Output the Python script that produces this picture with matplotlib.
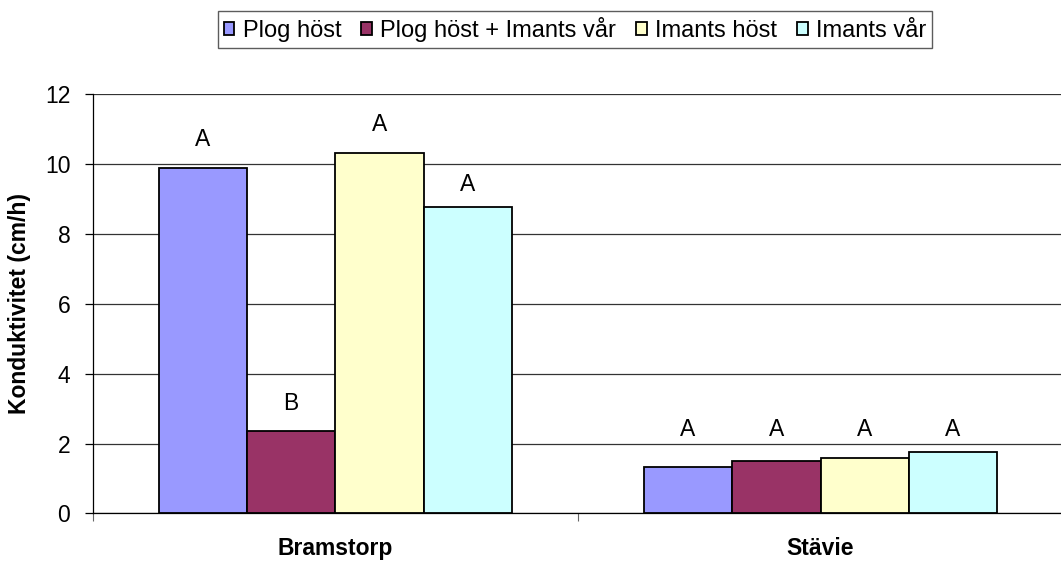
import matplotlib.pyplot as plt
import numpy as np

plt.rcParams['font.family'] = ['Liberation Sans', 'DejaVu Sans']

sites = ['Bramstorp', 'Stävie']
series = ['Plog höst', 'Plog höst + Imants vår', 'Imants höst', 'Imants vår']
plog_host = [9.9, 1.34]
plog_imants_var = [2.36, 1.50]
imants_host = [10.33, 1.60]
imants_var = [8.77, 1.77]
letters = [['A', 'A'], ['B', 'A'], ['A', 'A'], ['A', 'A']]
# height of the significance letters (data units)
letter_y = [[10.72, 2.41], [3.16, 2.41], [11.13, 2.41], [9.41, 2.41]]

colors = ['#9999FF', '#993366', '#FFFFCC', '#CCFFFF']
values = [plog_host, plog_imants_var, imants_host, imants_var]

fig = plt.figure(figsize=(10.61, 5.61), dpi=100)
ax = fig.add_axes([0.0872, 0.0849, 0.9149, 0.7467])

x = np.arange(len(sites))
w = 0.182
for i, (vals, col) in enumerate(zip(values, colors)):
    pos = x + (i - 1.5) * w
    ax.bar(pos, vals, w, color=col, edgecolor='black', linewidth=1.3,
           label=series[i], zorder=3)
    for j in range(len(sites)):
        ax.text(pos[j], letter_y[i][j], letters[i][j], ha='center',
                va='center', fontsize=16.5)

ax.set_xlim(-0.5, 1.5)
ax.set_ylim(0, 12)
ax.set_yticks(range(0, 13, 2))
ax.yaxis.grid(True, color='#333333', linewidth=0.9, zorder=0)
ax.set_xticks([-0.5, 0.5, 1.5])
ax.set_xticklabels([])
ax.set_xticks(x, minor=True)
ax.set_xticklabels(sites, minor=True, fontweight='bold', fontsize=16.5)
ax.tick_params(axis='x', which='minor', length=0, pad=17)
ax.tick_params(axis='x', which='major', length=6, color='#666666')
ax.tick_params(axis='y', labelsize=16.5, length=6, width=0.9, pad=10)

for s in ['top', 'right']:
    ax.spines[s].set_visible(False)
ax.spines['left'].set_linewidth(0.9)
ax.spines['bottom'].set_linewidth(0.9)
ax.set_ylabel('Konduktivitet (cm/h)', fontweight='bold', fontsize=16.5,
              labelpad=10)

leg = fig.legend(loc='center', bbox_to_anchor=(0.542, 0.947), ncol=4,
                 fontsize=17, frameon=True, fancybox=False, handlelength=0.45,
                 handleheight=0.45, handletextpad=0.35, columnspacing=0.85,
                 borderpad=0.25, edgecolor='#333333')
leg.get_frame().set_linewidth(1.0)

fig.savefig('out.png', dpi=100)
